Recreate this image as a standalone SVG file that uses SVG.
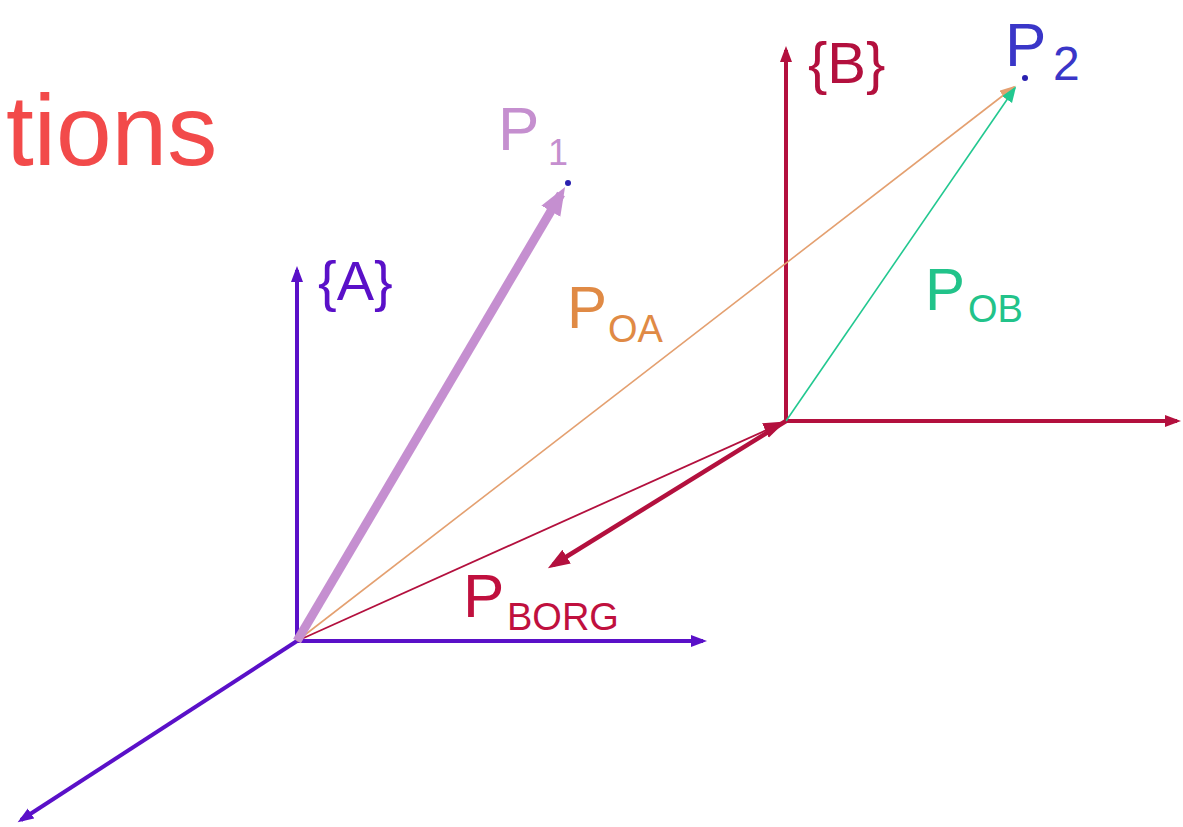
<svg xmlns="http://www.w3.org/2000/svg" width="1183" height="827" viewBox="0 0 1183 827">
<style>
text{font-family:"Liberation Sans",Arial,sans-serif}
.ax{fill:none;stroke-width:4;stroke-linecap:butt}
.pa{stroke:#5a10c8}
.cr{stroke:#b3103e}
</style>
<defs>
<marker id="hPur" markerUnits="userSpaceOnUse" markerWidth="18" markerHeight="14" refX="12" refY="6" orient="auto"><path d="M0,0 L16,6 L0,12 z" fill="#5a10c8"/></marker>
<marker id="hCr" markerUnits="userSpaceOnUse" markerWidth="18" markerHeight="14" refX="12" refY="6" orient="auto"><path d="M0,0 L16,6 L0,12 z" fill="#b3103e"/></marker>
<marker id="hCrBig" markerUnits="userSpaceOnUse" markerWidth="26" markerHeight="20" refX="16" refY="8" orient="auto"><path d="M0,0 L22,8 L0,16 z" fill="#b3103e"/></marker>
<marker id="hLil" markerUnits="userSpaceOnUse" markerWidth="32" markerHeight="26" refX="20" refY="11" orient="auto"><path d="M0,0 L28,11 L0,22 z" fill="#c58fd0"/></marker>
<marker id="hOr" markerUnits="userSpaceOnUse" markerWidth="20" markerHeight="14" refX="14" refY="6" orient="auto"><path d="M0,0 L16,6 L0,12 z" fill="#e4a070"/></marker>
<marker id="hGr" markerUnits="userSpaceOnUse" markerWidth="20" markerHeight="14" refX="14" refY="6" orient="auto"><path d="M0,0 L16,6 L0,12 z" fill="#22c890"/></marker>
</defs>
<rect width="1183" height="827" fill="#ffffff"/>
<g id="connectors">
<line class="ax pa" x1="297" y1="641" x2="297" y2="270" marker-end="url(#hPur)"/>
<line class="ax pa" x1="297" y1="641" x2="703" y2="641" marker-end="url(#hPur)"/>
<line class="ax pa" x1="297" y1="641" x2="21" y2="820" marker-end="url(#hPur)"/>
<line class="ax cr" x1="786" y1="421" x2="786" y2="50" marker-end="url(#hCr)"/>
<line class="ax cr" x1="786" y1="421" x2="1177" y2="421" marker-end="url(#hCr)"/>
<line x1="297" y1="641" x2="1014" y2="87" stroke="#e4a070" stroke-width="1.6" marker-end="url(#hOr)"/>
<line x1="786" y1="421" x2="1015" y2="88" stroke="#22c890" stroke-width="1.6" marker-end="url(#hGr)"/>
<line x1="297" y1="641" x2="780" y2="424" stroke="#b3103e" stroke-width="1.8" marker-end="url(#hCrBig)"/>
<line x1="786" y1="421" x2="553" y2="565" stroke="#b3103e" stroke-width="4.5" marker-end="url(#hCrBig)"/>
<line x1="297" y1="641" x2="561" y2="194" stroke="#c58fd0" stroke-width="9" marker-end="url(#hLil)"/>
</g>
<g id="title"><text x="6" y="165" font-size="100" fill="#f24a4a">tions</text></g>
<g id="frameA"><text x="318" y="300" font-size="56" fill="#5a10c8">{A}</text></g>
<g id="frameB"><text x="808" y="83" font-size="58" fill="#b3103e">{B}</text></g>
<g id="P1"><circle cx="568" cy="183" r="3" fill="#2a20b0"/><text x="498" y="150" font-size="62" fill="#c58fcf">P</text><text x="548" y="165" font-size="36" fill="#c58fcf">1</text></g>
<g id="P2"><circle cx="1025" cy="78" r="3" fill="#2a20b0"/><text x="1005" y="66" font-size="62" fill="#3a36c8">P</text><text x="1053" y="80" font-size="48" fill="#3a36c8">2</text></g>
<g id="POA"><text x="567" y="328" font-size="60" fill="#e08a45">P</text><text x="608" y="342" font-size="38" fill="#e08a45">OA</text></g>
<g id="POB"><text x="925" y="310" font-size="60" fill="#22c38a">P</text><text x="968" y="322" font-size="38" fill="#22c38a">OB</text></g>
<g id="PBORG"><text x="463" y="617" font-size="62" fill="#c0103e">P</text><text x="507" y="630" font-size="38" fill="#c0103e">BORG</text></g>
</svg>
